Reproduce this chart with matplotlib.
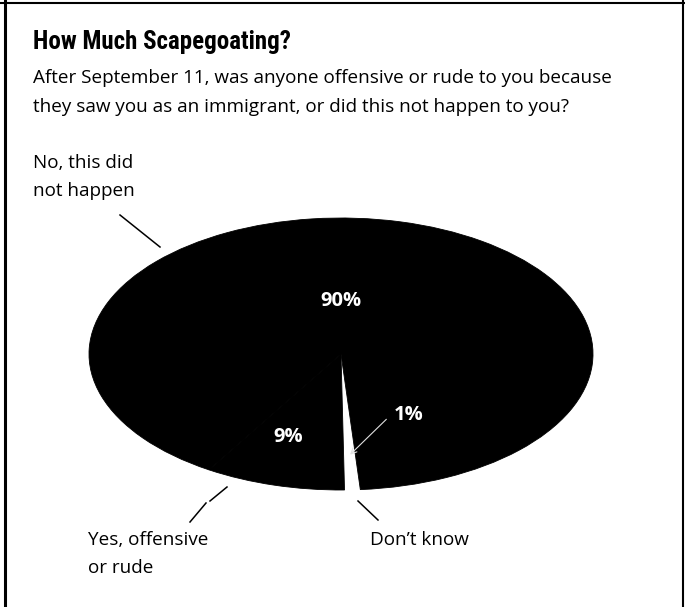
import matplotlib
matplotlib.use("Agg")
import matplotlib.pyplot as plt
from matplotlib.lines import Line2D

plt.rcParams['font.family'] = ['Open Sans', 'DejaVu Sans']

# survey answers, in the order the wedges are laid out (counter-clockwise)
answers = ["Don\u2019t know", "No, this did\nnot happen", "Yes, offensive\nor rude"]
shares = [1, 90, 9]
colors = ['white', 'black', 'black']

title = "How Much Scapegoating?"
question = ["After September 11, was anyone offensive or rude to you because",
            "they saw you as an immigrant, or did this not happen to you?"]

W, H = 685, 607
fig = plt.figure(figsize=(W / 100, H / 100), dpi=100)

# flattened pie: centre and semi-axes in pixels
cx, cy, rx, ry = 341, 354, 252, 136
ax = fig.add_axes([(cx - rx) / W, 1 - (cy + ry) / H, 2 * rx / W, 2 * ry / H])
wedges, _ = ax.pie(shares, colors=colors, startangle=270.8, counterclock=True,
                   wedgeprops=dict(linewidth=0.6))
for w, c in zip(wedges, colors):
    w.set_edgecolor(c)
ax.set_aspect('auto')
ax.set_xlim(-1, 1)
ax.set_ylim(-1, 1)
ax.axis('off')

# percentage labels inside the pie (pie coordinates)
pct_pos = [(0.27, -0.45), (0.0, 0.39), (-0.21, -0.61)]
for v, (x, y) in zip(shares, pct_pos):
    ax.text(x, y, f"{v}%", color='white', fontweight='bold', fontsize=14.5,
            ha='center', va='center')
ax.annotate('', xy=(0.036, -0.74), xytext=(0.18, -0.48),
            arrowprops=dict(arrowstyle='->', color='#e0e0e0', lw=0.8,
                            shrinkA=0, shrinkB=0))

# overlay in pixel coordinates for title, labels and leader lines
ov = fig.add_axes([0, 0, 1, 1])
ov.set_xlim(0, W)
ov.set_ylim(H, 0)
ov.axis('off')

ov.text(33, 42, title, fontsize=18, fontweight='bold', va='center', ha='left',
        family=['Roboto Condensed', 'Open Sans'])
for i, line in enumerate(question):
    ov.text(33, 78 + 29 * i, line, fontsize=13.6, va='center', ha='left')

label_pos = {answers[1]: (33, 163), answers[2]: (88, 540), answers[0]: (370, 540)}
for name, (x, y) in label_pos.items():
    for i, line in enumerate(name.split('\n')):
        ov.text(x, y + 28 * i, line, fontsize=13.6, va='center', ha='left')

leaders = [((120, 160), (215, 247)),
           ((190, 206), (522, 503)),
           ((210, 227), (501, 487)),
           ((358, 378), (501, 520))]
for xs, ys in leaders:
    ov.add_line(Line2D(xs, ys, color='black', lw=1.1))

# page frame
ov.add_line(Line2D([5, 5], [0, H], color='black', lw=2.2))
ov.add_line(Line2D([0, W], [3, 3], color='black', lw=1.5))
ov.add_line(Line2D([683, 683], [0, H], color='black', lw=1.5))

fig.savefig('out.png', dpi=100, facecolor='white')
